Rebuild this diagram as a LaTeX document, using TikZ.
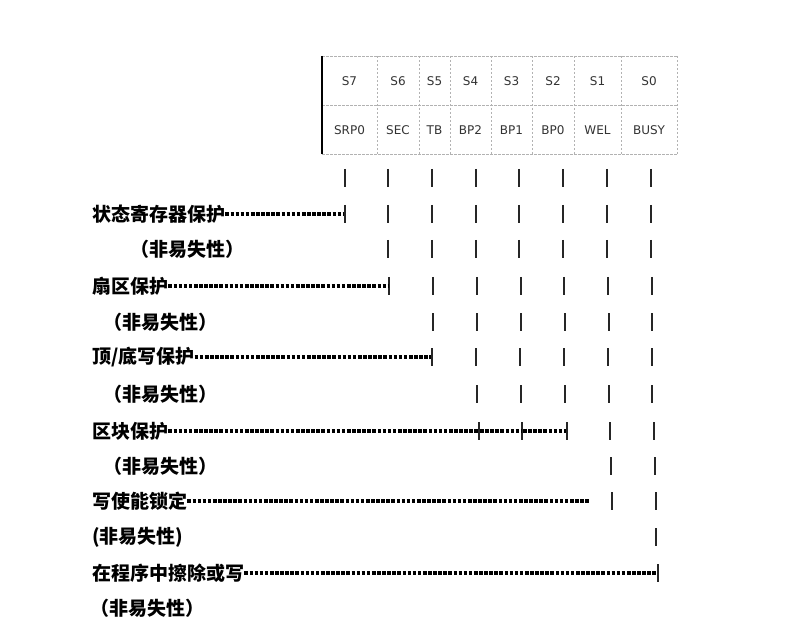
\documentclass[tikz,border=0pt]{standalone}
\usepackage{fontspec}
\setmainfont{DejaVu Sans}
\newfontfamily\cjk{Noto Sans CJK SC}
\usetikzlibrary{positioning}
\tikzset{
	reg cell/.style={draw=black!30, dash pattern=on 2.5pt off 1.5pt, line width=0.6pt},
	bit text/.style={text=black!80, inner sep=0, font=\fontsize{12}{12}\selectfont},
	row text/.style={inner sep=0, font=\cjk\bfseries\fontsize{19}{19}\selectfont},
	bit bar/.style={black!85, line width=2pt},
	dash leader/.style={draw=black, line width=3.4pt, dash pattern=on 3.6pt off 1.5pt}
}
\newcommand{\bitbars}[2]{\foreach \xb in {#2} \draw[bit bar] (\xb,#1-9) -- (\xb,#1+9);}

\begin{document}
\begin{tikzpicture}[x=1pt, y=-1pt]
		\useasboundingbox (0,0) rectangle (800,636);

		% status register
		\foreach \xa in {377,419,450,491,532,574,621,677}
			\draw[reg cell] (\xa,56) -- (\xa,154);
		\foreach \ya in {56,105,154}
			\draw[reg cell] (322,\ya) -- (677,\ya);
		\draw[black, line width=1.2pt] (322,56) -- (322,154);

		\foreach \xl/\xr/\bitno/\bitname in {322/377/S7/SRP0, 377/419/S6/SEC, 419/450/S5/TB, 450/491/S4/BP2, 491/532/S3/BP1, 532/574/S2/BP0, 574/621/S1/WEL, 621/677/S0/BUSY} {
			\node[bit text] (\bitno) at ({(\xl+\xr)/2},81) {\bitno};
			\node[bit text] (\bitname) at ({(\xl+\xr)/2},130) {\bitname};
		}

		% bars
		\bitbars{178}{345,388,432,476,519,563,607,651}
		\bitbars{214}{345,388,432,476,519,563,607,651}
		\bitbars{249}{388,432,476,519,563,607,651}
		\bitbars{286}{389,433,477,521,564,608,652}
		\bitbars{322}{433,477,521,565,609,652}
		\bitbars{357}{432,476,520,564,608,652}
		\bitbars{394}{477,521,565,609,652}
		\bitbars{431}{479,522,567,610,654}
		\bitbars{466}{611,655}
		\bitbars{501}{612,656}
		\bitbars{537}{656}
		\bitbars{573}{658}

		% rows
		\node[row text, anchor=west] (srp) at (92,214) {状态寄存器保护};
		\node[row text] (srp nv) at (187,249) {（非易失性）};
		\node[row text, anchor=west] (sec) at (92,286) {扇区保护};
		\node[row text] (sec nv) at (160,322) {（非易失性）};
		\node[row text, anchor=west] (tb) at (92,357) {顶/底写保护};
		\node[row text] (tb nv) at (160,394) {（非易失性）};
		\node[row text, anchor=west] (bp) at (92,431) {区块保护};
		\node[row text] (bp nv) at (160,466) {（非易失性）};
		\node[row text, anchor=west] (wel) at (92,501) {写使能锁定};
		\node[row text, anchor=west] (wel nv) at (92,537) {(非易失性)};
		\node[row text, anchor=west] (busy) at (92,573) {在程序中擦除或写};
		\node[row text] (busy nv) at (147,608) {（非易失性）};

		\coordinate (srp end) at (344,214);
		\coordinate (sec end) at (388,286);
		\coordinate (tb end) at (431,357);
		\coordinate (bp end) at (478,431);
		\coordinate (bp1 start) at (480,431);
		\coordinate (bp1 end) at (521,431);
		\coordinate (bp0 start) at (523,431);
		\coordinate (bp0 end) at (566,431);
		\coordinate (wel end) at (590,501);
		\coordinate (busy end) at (657,573);

		\draw[dash leader] (srp.east) -- (srp end);
		\draw[dash leader] (sec.east) -- (sec end);
		\draw[dash leader] (tb.east) -- (tb end);
		\draw[dash leader] (bp.east) -- (bp end);
		\draw[dash leader] (bp1 start) -- (bp1 end);
		\draw[dash leader] (bp0 start) -- (bp0 end);
		\draw[dash leader] (wel.east) -- (wel end);
		\draw[dash leader] (busy.east) -- (busy end);
	\end{tikzpicture}
\end{document}
